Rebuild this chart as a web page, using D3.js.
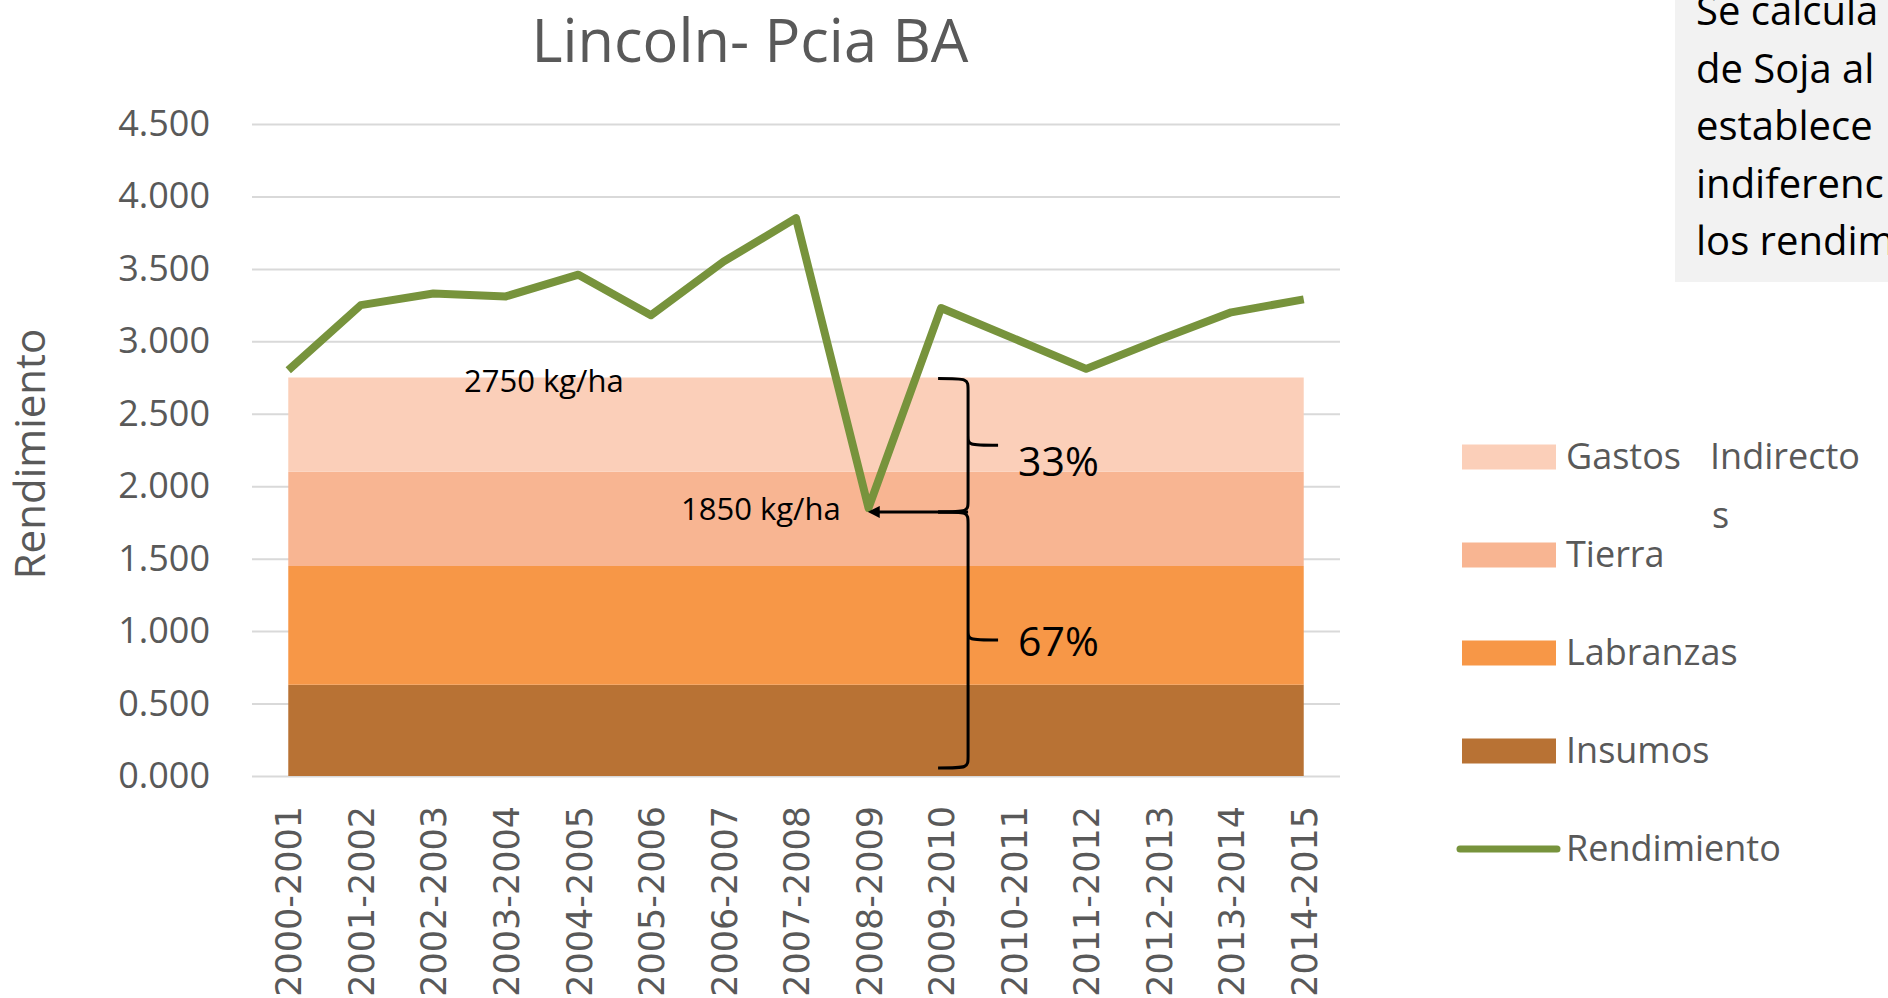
<!DOCTYPE html>
<html>
<head>
<meta charset="utf-8">
<script src="https://cdn.jsdelivr.net/npm/d3@7"></script>
<style>
  body { margin: 0; background: #fff; overflow: hidden; }
  svg { display: block; }
</style>
</head>
<body>
<script>
// data
var categories = ["2000-2001", "2001-2002", "2002-2003", "2003-2004", "2004-2005",
    "2005-2006", "2006-2007", "2007-2008", "2008-2009", "2009-2010",
    "2010-2011", "2011-2012", "2012-2013", "2013-2014", "2014-2015"];
var rendimiento = [2.80, 3.25, 3.33, 3.31, 3.46, 3.18, 3.55, 3.85, 1.85, 3.23, 3.02, 2.81, 3.01, 3.20, 3.29];
var insumos = [0.63, 0.63, 0.63, 0.63, 0.63, 0.63, 0.63, 0.63, 0.63, 0.63, 0.63, 0.63, 0.63, 0.63, 0.63];
var labranzas = [0.82, 0.82, 0.82, 0.82, 0.82, 0.82, 0.82, 0.82, 0.82, 0.82, 0.82, 0.82, 0.82, 0.82, 0.82];
var tierra = [0.65, 0.65, 0.65, 0.65, 0.65, 0.65, 0.65, 0.65, 0.65, 0.65, 0.65, 0.65, 0.65, 0.65, 0.65];
var gastos = [0.65, 0.65, 0.65, 0.65, 0.65, 0.65, 0.65, 0.65, 0.65, 0.65, 0.65, 0.65, 0.65, 0.65, 0.65];
var yTicks = [0, 0.5, 1, 1.5, 2, 2.5, 3, 3.5, 4, 4.5];
var costTotal = 2.75;   // 2750 kg/ha
var yieldMin = 1.85;    // 1850 kg/ha
var boxLines = ["Se calcula", "de Soja al", "establece", "indiferenc", "los rendim"];

var seriesKeys = ["insumos", "labranzas", "tierra", "gastos"];
var seriesColors = { insumos: "#b87234", labranzas: "#f79747", tierra: "#f8b592", gastos: "#fbcfb9" };

var width = 1888;
var height = 998;
var textColor = "#595959";

var svg = d3.select("body")
    .append("svg")
    .attr("width", width)
    .attr("height", height);

// scales
var xScale = d3.scalePoint()
    .domain(categories)
    .range([252, 1340])
    .padding(0.5);

var yScale = d3.scaleLinear()
    .domain([0, 4.5])
    .range([776, 124]);

// title
svg.append("text")
    .attr("x", 750)
    .attr("y", 62)
    .attr("text-anchor", "middle")
    .attr("font-family", "Open Sans")
    .attr("font-size", 60)
    .attr("textLength", 437)
    .attr("lengthAdjust", "spacingAndGlyphs")
    .attr("fill", textColor)
    .text("Lincoln- Pcia BA");

// y axis + gridlines
var yAxis = d3.axisLeft(yScale)
    .tickValues(yTicks)
    .tickFormat(d3.format(".3f"))
    .tickSize(-(1340 - 252))
    .tickPadding(42);

var yg = svg.append("g")
    .attr("transform", "translate(252,0)")
    .call(yAxis);
yg.select(".domain").remove();
yg.selectAll("line").attr("stroke", "#d9d9d9").attr("stroke-width", 2);
yg.selectAll("text")
    .attr("font-family", "Open Sans")
    .attr("font-size", 36)
    .attr("fill", textColor);

// y label
svg.append("text")
    .attr("transform", "translate(45,454) rotate(-90)")
    .attr("text-anchor", "middle")
    .attr("font-family", "Open Sans")
    .attr("font-size", 42)
    .attr("fill", textColor)
    .text("Rendimiento");

// stacked areas
var rows = categories.map(function(c, i) {
    return { cat: c, insumos: insumos[i], labranzas: labranzas[i], tierra: tierra[i], gastos: gastos[i] };
});
var stacked = d3.stack().keys(seriesKeys)(rows);

var area = d3.area()
    .x(d => xScale(d.data.cat))
    .y0(d => yScale(d[0]))
    .y1(d => yScale(d[1]));

svg.selectAll("path.band")
    .data(stacked)
    .enter()
    .append("path")
    .attr("class", "band")
    .attr("d", area)
    .attr("fill", d => seriesColors[d.key]);

// x axis labels
var xAxis = d3.axisBottom(xScale).tickSize(0);
var xg = svg.append("g")
    .attr("transform", "translate(0,776)")
    .call(xAxis);
xg.select(".domain").remove();
xg.selectAll("text")
    .attr("font-family", "DejaVu Sans")
    .attr("font-size", 35)
    .attr("fill", textColor)
    .attr("transform", "rotate(-90)")
    .attr("x", -30)
    .attr("y", 0)
    .attr("dy", "0.36em")
    .style("text-anchor", "end");

// rendimiento line
var line = d3.line()
    .x((d, i) => xScale(categories[i]))
    .y(d => yScale(d));

svg.append("path")
    .datum(rendimiento)
    .attr("d", line)
    .attr("fill", "none")
    .attr("stroke", "#77933c")
    .attr("stroke-width", 8)
    .attr("stroke-linejoin", "round");

// annotations
svg.append("defs").append("marker")
    .attr("id", "arrow")
    .attr("viewBox", "0 0 10 10")
    .attr("refX", 1)
    .attr("refY", 5)
    .attr("markerWidth", 4)
    .attr("markerHeight", 4)
    .attr("orient", "auto-start-reverse")
    .append("path")
    .attr("d", "M0,0 L10,5 L0,10 z")
    .attr("fill", "#000");

svg.append("text")
    .attr("x", 464)
    .attr("y", yScale(costTotal) + 14)
    .attr("font-family", "Open Sans")
    .attr("font-size", 31)
    .attr("fill", "#000")
    .text("2750 kg/ha");

var minIdx = rendimiento.indexOf(yieldMin);
var braceX = xScale(categories[minIdx + 1]) + 27;

svg.append("text")
    .attr("x", 681)
    .attr("y", yScale(yieldMin) + 12)
    .attr("font-family", "Open Sans")
    .attr("font-size", 31)
    .attr("fill", "#000")
    .text("1850 kg/ha");

svg.append("line")
    .attr("x1", braceX)
    .attr("x2", xScale(categories[minIdx]) + 10)
    .attr("y1", yScale(yieldMin) + 4)
    .attr("y2", yScale(yieldMin) + 4)
    .attr("stroke", "#000")
    .attr("stroke-width", 3)
    .attr("marker-end", "url(#arrow)");

function brace(xv, ya, yb) {
    var ym = (ya + yb) / 2;
    var x0 = xv - 30, xt = xv + 30;
    return "M" + x0 + "," + ya +
        " C" + xv + "," + ya + " " + xv + "," + ya + " " + xv + "," + (ya + 12) +
        " L" + xv + "," + (ym - 10) +
        " C" + xv + "," + ym + " " + xv + "," + ym + " " + xt + "," + ym +
        " M" + xv + "," + (ym - 10) +
        " C" + xv + "," + ym + " " + xv + "," + ym + " " + xv + "," + (ym + 10) +
        " L" + xv + "," + (yb - 12) +
        " C" + xv + "," + yb + " " + xv + "," + yb + " " + x0 + "," + yb;
}

var braces = [
    { top: costTotal, bottom: yieldMin, dy: 31, label: Math.round((costTotal - yieldMin) / costTotal * 100) + "%" },
    { top: yieldMin, bottom: 0, dy: 16, label: Math.round(yieldMin / costTotal * 100) + "%" }
];

braces.forEach(function(b, i) {
    var ya = yScale(b.top) + (i === 0 ? 1 : 4);
    var yb = yScale(b.bottom) + (i === 0 ? 4 : -8);
    svg.append("path")
        .attr("d", brace(braceX, ya, yb))
        .attr("fill", "none")
        .attr("stroke", "#000")
        .attr("stroke-width", 3);
    svg.append("text")
        .attr("x", braceX + 50)
        .attr("y", (ya + yb) / 2 + b.dy)
        .attr("font-family", "Open Sans")
        .attr("font-size", 41)
        .attr("fill", "#000")
        .text(b.label);
});

// legend
var legendItems = [
    { key: "gastos", label: "Gastos" },
    { key: "tierra", label: "Tierra" },
    { key: "labranzas", label: "Labranzas" },
    { key: "insumos", label: "Insumos" },
    { key: "line", label: "Rendimiento" }
];

var lg = svg.selectAll("g.legend")
    .data(legendItems)
    .enter()
    .append("g")
    .attr("class", "legend")
    .attr("transform", (d, i) => "translate(0," + (457 + i * 98) + ")");

lg.filter(d => d.key !== "line")
    .append("rect")
    .attr("x", 1462)
    .attr("y", -12.5)
    .attr("width", 94)
    .attr("height", 25)
    .attr("fill", d => seriesColors[d.key]);

lg.filter(d => d.key === "line")
    .append("line")
    .attr("x1", 1460)
    .attr("x2", 1557)
    .attr("stroke", "#77933c")
    .attr("stroke-width", 7)
    .attr("stroke-linecap", "round");

lg.append("text")
    .attr("x", 1566)
    .attr("y", 12)
    .attr("font-family", "Open Sans")
    .attr("font-size", 36)
    .attr("fill", textColor)
    .text(d => d.label);

lg.filter(d => d.key === "gastos")
    .append("text")
    .attr("x", 1710)
    .attr("y", 12)
    .attr("font-family", "Open Sans")
    .attr("font-size", 36)
    .attr("fill", textColor)
    .text("Indirecto");

lg.filter(d => d.key === "gastos")
    .append("text")
    .attr("x", 1712)
    .attr("y", 71)
    .attr("font-family", "Open Sans")
    .attr("font-size", 36)
    .attr("fill", textColor)
    .text("s");

// note box
svg.append("rect")
    .attr("x", 1675)
    .attr("y", 0)
    .attr("width", width - 1675)
    .attr("height", 282)
    .attr("fill", "#f2f2f2");

svg.selectAll("text.note")
    .data(boxLines)
    .enter()
    .append("text")
    .attr("class", "note")
    .attr("x", 1696)
    .attr("y", (d, i) => 25 + i * 57.5)
    .attr("font-family", "Open Sans")
    .attr("font-size", 40)
    .attr("fill", "#000")
    .text(d => d);
</script>
</body>
</html>
